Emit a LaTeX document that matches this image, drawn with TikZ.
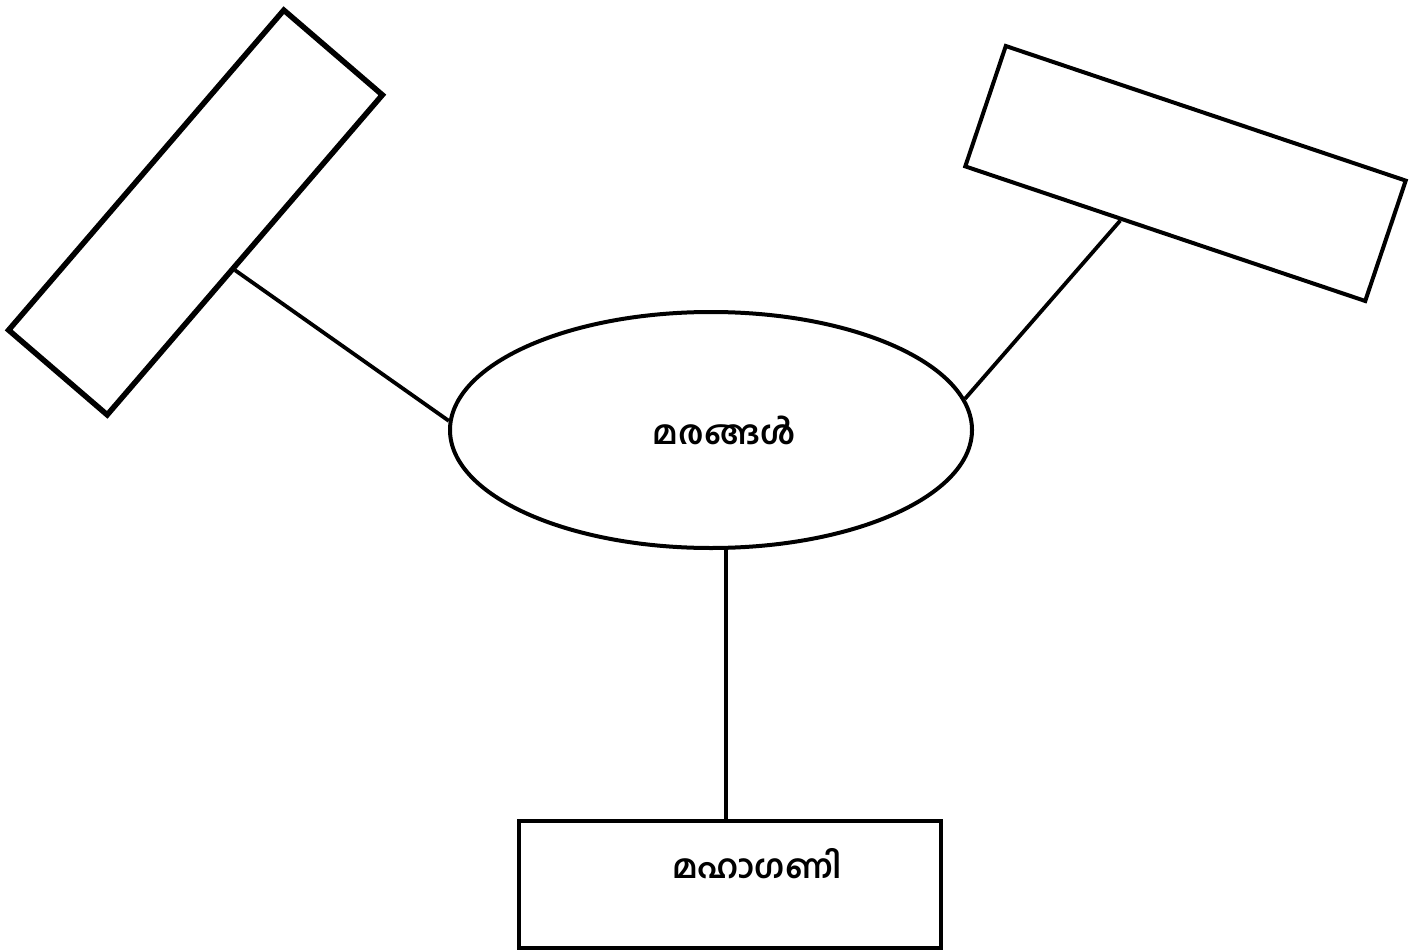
\documentclass[tikz,border=0pt]{standalone}
\usepackage{fontspec}
\newfontfamily\mlfont[Script=Malayalam]{Hind Kochi}
\usetikzlibrary{shapes.geometric,calc}
\tikzset{
  box/.style={draw=black, rectangle, minimum width=422pt, minimum height=128pt, inner sep=0pt, anchor=center},
  oval/.style={draw=black, ellipse, line width=4pt, minimum width=522pt, minimum height=236pt, inner sep=0pt},
  lbl/.style={font=\mlfont\bfseries\fontsize{33}{38}\selectfont, inner sep=0pt},
  conn/.style={line width=3.8pt}
}
\begin{document}
\begin{tikzpicture}[x=1pt,y=-1pt]
\useasboundingbox (0,0) rectangle (1418,952);
\node[box, line width=5.5pt, minimum height=130pt, rotate=49.3] (L) at (195.5,212.5) {};
\node[box, line width=4pt, minimum height=127pt, rotate=-18.6] (R) at (1185.5,173.5) {};
\node[oval] (E) at (711,430) {};
\node[lbl] (Et) at (724,430) {മരങ്ങൾ};
\node[box, line width=4pt, minimum height=127pt] (B) at (730,884.5) {};
\node[lbl] (Bt) at (757,864) {മഹാഗണി};
\coordinate (Lp) at ($(L.south)!0.084!(L.south west)$);
\coordinate (Rp) at ($(R.south)!0.22!(R.south west)$);
\draw[conn] (Lp) -- (E.178);
\draw[conn] (Rp) -- (E.7);
\draw[conn] (E.-83) -- (E.-83 |- B.north);
\end{tikzpicture}
\end{document}
